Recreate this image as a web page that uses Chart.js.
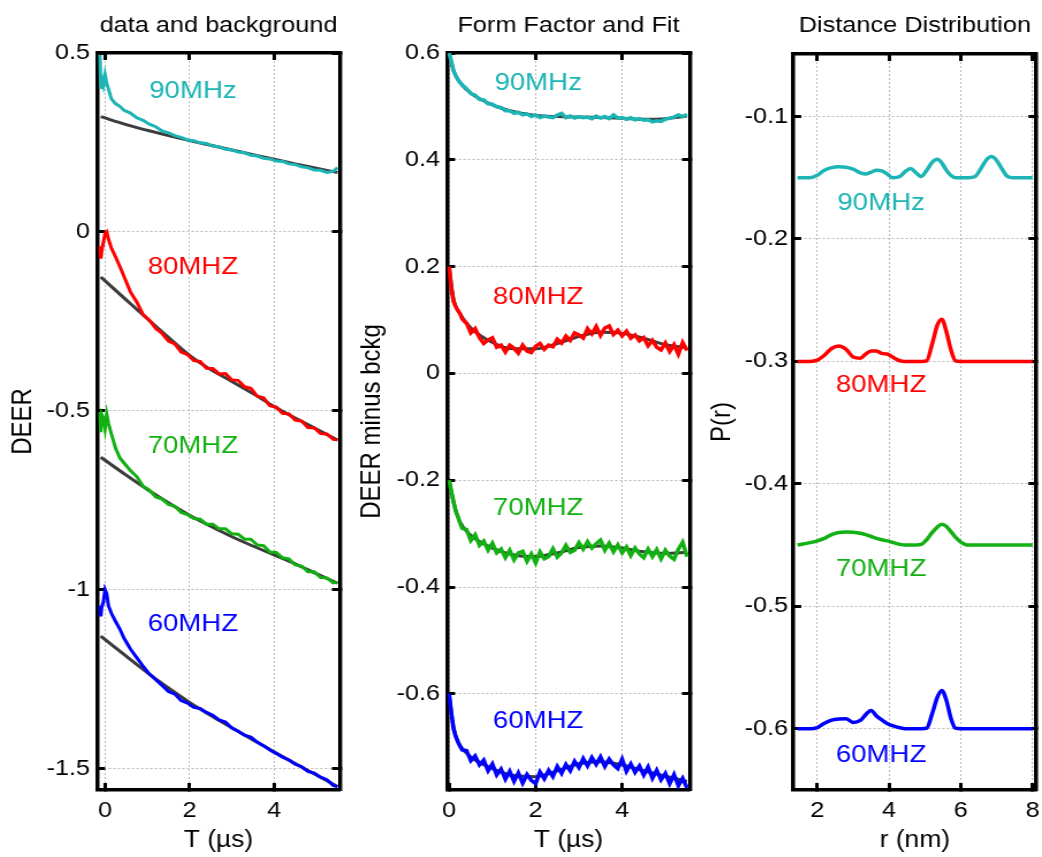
<!DOCTYPE html>
<html>
<head>
<meta charset="utf-8">
<script src="https://cdn.jsdelivr.net/npm/chart.js@4.4.1/dist/chart.umd.min.js"></script>
<style>
  html, body { margin: 0; padding: 0; background: #fff; overflow: hidden; width: 1042px; height: 857px; }
  canvas { position: absolute; top: 0; }
</style>
</head>
<body>
<canvas id="bg" width="300" height="857" style="left:0px;width:345px;height:857px"></canvas>
<canvas id="ff" width="300" height="857" style="left:350px;width:345px;height:857px"></canvas>
<canvas id="dist" width="310" height="857" style="left:700px;width:356.5px;height:857px"></canvas>
<script>
// panel 1: data and background (T in us)
const tData = [-0.12,-0.1,-0.08,-0.04,0,0.04,0.08,0.15,0.25,0.35,0.45,
  0.6,0.75,0.9,1.05,1.2,1.35,1.5,1.65,1.8,1.95,
  2.1,2.25,2.4,2.55,2.7,2.85,3.0,3.15,3.3,3.45,
  3.6,3.75,3.9,4.05,4.2,4.35,4.5,4.65,4.8,4.95,
  5.1,5.25,5.4,5.5];
const cyanData = [0.495,0.40,0.43,0.41,0.44,0.415,0.40,0.372,0.358,0.351,0.34,
  0.332,0.319,0.312,0.301,0.294,0.282,0.277,0.269,0.264,0.257,
  0.255,0.249,0.247,0.24,0.238,0.231,0.229,0.223,0.221,0.214,
  0.212,0.206,0.204,0.198,0.197,0.19,0.188,0.182,0.179,0.173,
  0.172,0.166,0.169,0.18];
const redData = [-0.04,-0.075,-0.055,-0.03,-0.005,0.0,-0.02,-0.045,-0.07,-0.097,-0.125,
  -0.168,-0.196,-0.231,-0.247,-0.27,-0.284,-0.305,-0.313,-0.336,-0.343,
  -0.36,-0.362,-0.381,-0.382,-0.397,-0.396,-0.414,-0.415,-0.433,-0.437,
  -0.459,-0.464,-0.486,-0.49,-0.507,-0.509,-0.526,-0.529,-0.547,-0.548,
  -0.564,-0.565,-0.58,-0.581];
const greenData = [-0.505,-0.56,-0.51,-0.52,-0.55,-0.51,-0.535,-0.565,-0.605,-0.632,-0.646,
  -0.667,-0.684,-0.711,-0.722,-0.741,-0.747,-0.762,-0.767,-0.784,-0.79,
  -0.801,-0.803,-0.817,-0.817,-0.83,-0.83,-0.844,-0.845,-0.859,-0.859,
  -0.875,-0.877,-0.895,-0.896,-0.911,-0.914,-0.931,-0.934,-0.95,-0.95,
  -0.966,-0.967,-0.981,-0.979];
const blueData = [-1.045,-1.075,-1.05,-1.035,-1.0,-1.012,-1.045,-1.066,-1.089,-1.11,-1.136,
  -1.166,-1.19,-1.214,-1.236,-1.252,-1.268,-1.285,-1.292,-1.31,-1.317,
  -1.329,-1.332,-1.343,-1.351,-1.364,-1.37,-1.387,-1.396,-1.407,-1.412,
  -1.426,-1.436,-1.448,-1.458,-1.468,-1.476,-1.488,-1.495,-1.508,-1.513,
  -1.524,-1.531,-1.547,-1.551];
const tFit = [-0.1,0.5,1,1.5,2,2.5,3,3.5,4,4.5,5,5.5];
const cyanFit = [0.322,0.3,0.284,0.269,0.255,0.242,0.229,0.216,0.203,0.19,0.178,0.166];
const redFit = [-0.126,-0.19,-0.243,-0.295,-0.345,-0.385,-0.418,-0.452,-0.488,-0.52,-0.551,-0.582];
const greenFit = [-0.63,-0.68,-0.72,-0.757,-0.792,-0.823,-0.852,-0.878,-0.903,-0.928,-0.955,-0.982];
const blueFit = [-1.13,-1.186,-1.232,-1.275,-1.315,-1.352,-1.386,-1.42,-1.453,-1.486,-1.518,-1.55];

// panel 2: form factor and fit
const tForm = [0,0.05,0.1,0.15,0.2,0.25,0.3,
  0.4,0.5,0.6,0.7,0.8,0.9,1.0,1.1,1.2,1.3,
  1.4,1.5,1.6,1.7,1.8,1.9,2.0,2.1,2.2,2.3,
  2.4,2.5,2.6,2.7,2.8,2.9,3.0,3.1,3.2,3.3,
  3.4,3.5,3.6,3.7,3.8,3.9,4.0,4.1,4.2,4.3,
  4.4,4.5,4.6,4.7,4.8,4.9,5.0,5.1,5.2,5.3,
  5.4,5.5];
const cyanForm = [0.6,0.585,0.567,0.558,0.55,0.545,0.54,
  0.533,0.524,0.521,0.513,0.512,0.505,0.504,0.499,0.498,0.492,
  0.492,0.487,0.489,0.484,0.486,0.481,0.484,0.479,0.482,0.48,
  0.479,0.484,0.487,0.479,0.482,0.478,0.481,0.479,0.48,0.477,
  0.482,0.478,0.481,0.477,0.484,0.478,0.479,0.476,0.479,0.475,
  0.477,0.474,0.475,0.471,0.473,0.472,0.476,0.478,0.48,0.484,
  0.481,0.485];
const redForm = [0.2,0.16,0.135,0.125,0.118,0.112,0.102,
  0.094,0.076,0.084,0.067,0.056,0.063,0.067,0.049,0.053,0.04,
  0.053,0.047,0.038,0.053,0.042,0.039,0.051,0.056,0.045,0.053,
  0.05,0.064,0.057,0.07,0.062,0.076,0.072,0.066,0.084,0.074,
  0.088,0.071,0.085,0.089,0.073,0.081,0.07,0.079,0.066,0.072,
  0.061,0.067,0.052,0.062,0.049,0.044,0.057,0.041,0.054,0.036,
  0.058,0.043];
const greenForm = [-0.2,-0.22,-0.24,-0.258,-0.268,-0.28,-0.29,
  -0.292,-0.313,-0.302,-0.322,-0.314,-0.331,-0.318,-0.336,-0.329,-0.345,
  -0.331,-0.349,-0.336,-0.333,-0.352,-0.338,-0.355,-0.334,-0.347,-0.343,
  -0.328,-0.344,-0.336,-0.322,-0.335,-0.331,-0.317,-0.329,-0.315,-0.327,
  -0.319,-0.312,-0.331,-0.318,-0.334,-0.321,-0.336,-0.325,-0.341,-0.327,
  -0.338,-0.345,-0.329,-0.343,-0.33,-0.347,-0.331,-0.342,-0.348,-0.329,
  -0.316,-0.343];
const blueForm = [-0.6,-0.635,-0.665,-0.68,-0.69,-0.698,-0.705,
  -0.706,-0.725,-0.716,-0.733,-0.724,-0.744,-0.731,-0.752,-0.741,-0.76,
  -0.745,-0.764,-0.748,-0.767,-0.751,-0.762,-0.768,-0.746,-0.759,-0.743,
  -0.755,-0.736,-0.749,-0.732,-0.744,-0.726,-0.738,-0.721,-0.735,-0.719,
  -0.732,-0.718,-0.736,-0.722,-0.733,-0.74,-0.722,-0.745,-0.731,-0.747,
  -0.735,-0.752,-0.737,-0.758,-0.743,-0.761,-0.749,-0.768,-0.751,-0.772,
  -0.758,-0.776];
const tFormFit = [0,0.1,0.25,0.5,1,1.5,2,2.5,3,3.5,4,4.5,5,5.5];
const cyanFormFit = [0.6,0.567,0.545,0.525,0.503,0.49,0.483,0.481,0.48,0.479,0.478,0.476,0.477,0.482];
const redFormFit = [0.2,0.14,0.112,0.085,0.058,0.046,0.046,0.056,0.069,0.077,0.075,0.066,0.054,0.048];
const greenFormFit = [-0.2,-0.24,-0.278,-0.303,-0.327,-0.34,-0.343,-0.336,-0.326,-0.323,-0.327,-0.334,-0.337,-0.335];
const blueFormFit = [-0.6,-0.662,-0.696,-0.718,-0.74,-0.753,-0.755,-0.744,-0.731,-0.727,-0.733,-0.744,-0.754,-0.764];

// panel 3: distance distribution (r in nm)
const rDist = [1.45,1.8,2.0,2.2,2.4,2.6,2.8,3.0,3.2,
  3.35,3.5,3.65,3.8,3.95,4.1,
  4.3,4.45,4.6,4.75,4.9,5.05,
  5.2,5.35,5.47,5.6,5.72,5.85,
  6.0,6.2,6.4,6.55,6.7,6.85,
  7.0,7.15,7.3,7.45,7.7,8.0];
const cyanDist = [-0.15,-0.15,-0.148,-0.144,-0.1418,-0.141,-0.1415,-0.143,-0.146,
  -0.147,-0.1455,-0.144,-0.1445,-0.147,-0.15,
  -0.149,-0.145,-0.1425,-0.146,-0.149,-0.144,
  -0.1375,-0.135,-0.138,-0.144,-0.148,-0.15,
  -0.15,-0.15,-0.149,-0.143,-0.136,-0.1328,
  -0.136,-0.143,-0.149,-0.15,-0.15,-0.15];
const redDist = [-0.3,-0.3,-0.299,-0.295,-0.2895,-0.2875,-0.29,-0.2965,-0.2975,
  -0.294,-0.2915,-0.2915,-0.2935,-0.294,-0.2965,
  -0.2995,-0.3,-0.3,-0.3,-0.3,-0.2995,
  -0.286,-0.27,-0.2655,-0.276,-0.29,-0.2995,
  -0.3,-0.3,-0.3,-0.3,-0.3,-0.3,
  -0.3,-0.3,-0.3,-0.3,-0.3,-0.3];
const greenDist = [-0.45,-0.448,-0.4465,-0.4445,-0.4415,-0.4398,-0.4393,-0.4395,-0.4403,
  -0.4415,-0.443,-0.4445,-0.4457,-0.4466,-0.4478,
  -0.4494,-0.45,-0.45,-0.45,-0.4495,-0.4455,
  -0.4398,-0.4352,-0.433,-0.4348,-0.4388,-0.4435,
  -0.4475,-0.45,-0.45,-0.45,-0.45,-0.45,
  -0.45,-0.45,-0.45,-0.45,-0.45,-0.45];
const blueDist = [-0.6,-0.6,-0.599,-0.5955,-0.593,-0.592,-0.5918,-0.5948,-0.5932,
  -0.5885,-0.585,-0.5895,-0.5928,-0.5958,-0.5975,
  -0.5992,-0.6,-0.6,-0.6,-0.6,-0.5995,
  -0.588,-0.574,-0.5687,-0.577,-0.591,-0.5995,
  -0.6,-0.6,-0.6,-0.6,-0.6,-0.6,
  -0.6,-0.6,-0.6,-0.6,-0.6,-0.6];

const names = ['90MHz', '80MHZ', '70MHZ', '60MHZ'];
// where each name sits, in data units of its panel
const nameX = [2.08, 2.06, 3.78];
const nameY1 = [0.394, -0.1, -0.6, -1.098];
const nameY2 = [0.544, 0.143, -0.252, -0.652];
const nameY3 = [-0.1707, -0.32, -0.4696, -0.6217];

const FONT = "'Liberation Sans', Arial, Helvetica, sans-serif";
const colors = ['#1cb4b4', '#ff0000', '#12b012', '#0000ff'];
const fitColor = '#3c3c3c';

function pts(xs, ys) {
  return xs.map((x, i) => ({x: x, y: ys[i]}));
}

function line(xs, ys, color, width, smooth) {
  return {
    data: pts(xs, ys),
    borderColor: color,
    borderWidth: width,
    pointRadius: 0,
    fill: false,
    tension: 0,
    cubicInterpolationMode: smooth ? 'monotone' : 'default'
  };
}

function nameLabels(xVal, yVals) {
  return {
    id: 'nameLabels',
    afterDatasetsDraw(chart) {
      const ctx = chart.ctx;
      const xs = chart.scales.x, ys = chart.scales.y;
      ctx.save();
      ctx.font = '24px ' + FONT;
      ctx.textAlign = 'center';
      ctx.textBaseline = 'middle';
      names.forEach((n, i) => {
        ctx.fillStyle = colors[i];
        ctx.fillText(n, xs.getPixelForValue(xVal), ys.getPixelForValue(yVals[i]));
      });
      ctx.restore();
    }
  };
}

function panel(id, o) {
  const tickFont = {family: FONT, size: 22, weight: 'normal'};
  const fmt = v => +Number(v).toFixed(2);
  const frame = {color: '#000', width: 3.5};
  const inTicks = {drawOnChartArea: false, tickLength: -7, tickColor: '#000', tickWidth: 3};
  const gridLines = {color: '#b8b8b8', lineWidth: 1, tickLength: -7, tickColor: '#000', tickWidth: 3};
  new Chart(document.getElementById(id), {
    type: 'line',
    data: {datasets: o.datasets},
    options: {
      responsive: false,
      animation: false,
      devicePixelRatio: 1,
      layout: {padding: {left: 0, right: o.padRight, top: 0, bottom: 0}},
      plugins: {
        legend: {display: false},
        tooltip: {enabled: false},
        title: {display: true, text: o.title, color: '#000', font: tickFont, fullSize: false,
          padding: {top: 12.8, bottom: o.titleGap}}
      },
      scales: {
        x: {
          type: 'linear', position: 'bottom', min: o.xMin, max: o.xMax,
          ticks: {stepSize: o.xStep, includeBounds: false, autoSkip: false, maxRotation: 0,
            color: '#000', font: tickFont, padding: 14.8, callback: fmt},
          grid: gridLines,
          border: {color: '#000', width: 3.5, dash: [2, 2]},
          title: {display: true, text: o.xTitle, color: '#000', font: {family: FONT, size: 23},
            padding: {top: 0, bottom: 2.2}},
          afterFit: s => { s.height = 67; }
        },
        y: {
          type: 'linear', position: 'left', min: o.yMin, max: o.yMax,
          ticks: {stepSize: o.yStep, includeBounds: false, autoSkip: false,
            color: '#000', font: tickFont, padding: o.yPad, callback: fmt},
          grid: gridLines,
          border: {color: '#000', width: 3.5, dash: [2, 2]},
          title: {display: true, text: o.yTitle, color: '#000', font: {family: FONT, size: 24},
            padding: {top: o.yTitlePad, bottom: 0}},
          afterFit: s => { s.width = o.left; }
        },
        x2: {
          type: 'linear', position: 'top', min: o.xMin, max: o.xMax,
          ticks: {display: false, stepSize: o.xStep, includeBounds: false},
          grid: inTicks, border: frame,
          afterFit: s => { s.height = 0; }
        },
        y2: {
          type: 'linear', position: 'right', min: o.yMin, max: o.yMax,
          ticks: {display: false, stepSize: o.yStep, includeBounds: false},
          grid: inTicks, border: frame,
          afterFit: s => { s.width = 0; }
        }
      }
    },
    plugins: [nameLabels(o.nameX, o.nameY)]
  });
}

const dataSets = [cyanData, redData, greenData, blueData];
const fitSets = [cyanFit, redFit, greenFit, blueFit];
panel('bg', {
  title: 'data and background', xTitle: 'T (\u00b5s)', yTitle: 'DEER',
  xMin: -0.19, xMax: 5.56, xStep: 2, yMin: -1.56, yMax: 0.5, yStep: 0.5,
  left: 84.35, padRight: 4.35, titleGap: 13.8, yPad: 13, yTitlePad: 5.8,
  nameX: nameX[0], nameY: nameY1,
  datasets: dataSets.map((d, i) => line(tData, d, colors[i], 3, false))
    .concat(fitSets.map(f => line(tFit, f, fitColor, 3, true)))
});

const formSets = [cyanForm, redForm, greenForm, blueForm];
const formFitSets = [cyanFormFit, redFormFit, greenFormFit, blueFormFit];
panel('ff', {
  title: 'Form Factor and Fit', xTitle: 'T (\u00b5s)', yTitle: 'DEER minus bckg',
  xMin: -0.05, xMax: 5.57, xStep: 2, yMin: -0.78, yMax: 0.6, yStep: 0.2,
  left: 84.35, padRight: 4.35, titleGap: 13.8, yPad: 13, yTitlePad: 4.5,
  nameX: nameX[1], nameY: nameY2,
  datasets: formSets.map((d, i) => line(tForm, d, colors[i], 3.5, false))
    .concat(formFitSets.map(f => line(tFormFit, f, fitColor, 3, true)))
});

const distSets = [cyanDist, redDist, greenDist, blueDist];
panel('dist', {
  title: 'Distance Distribution', xTitle: 'r (nm)', yTitle: 'P(r)',
  xMin: 1.33, xMax: 8.11, xStep: 2, yMin: -0.65, yMax: -0.049, yStep: 0.1,
  left: 80.9, padRight: 16.1, titleGap: 14.8, yPad: 11.35, yTitlePad: 4.5,
  nameX: nameX[2], nameY: nameY3,
  datasets: distSets.map((d, i) => line(rDist, d, colors[i], 3.5, true))
});
</script>
</body>
</html>
